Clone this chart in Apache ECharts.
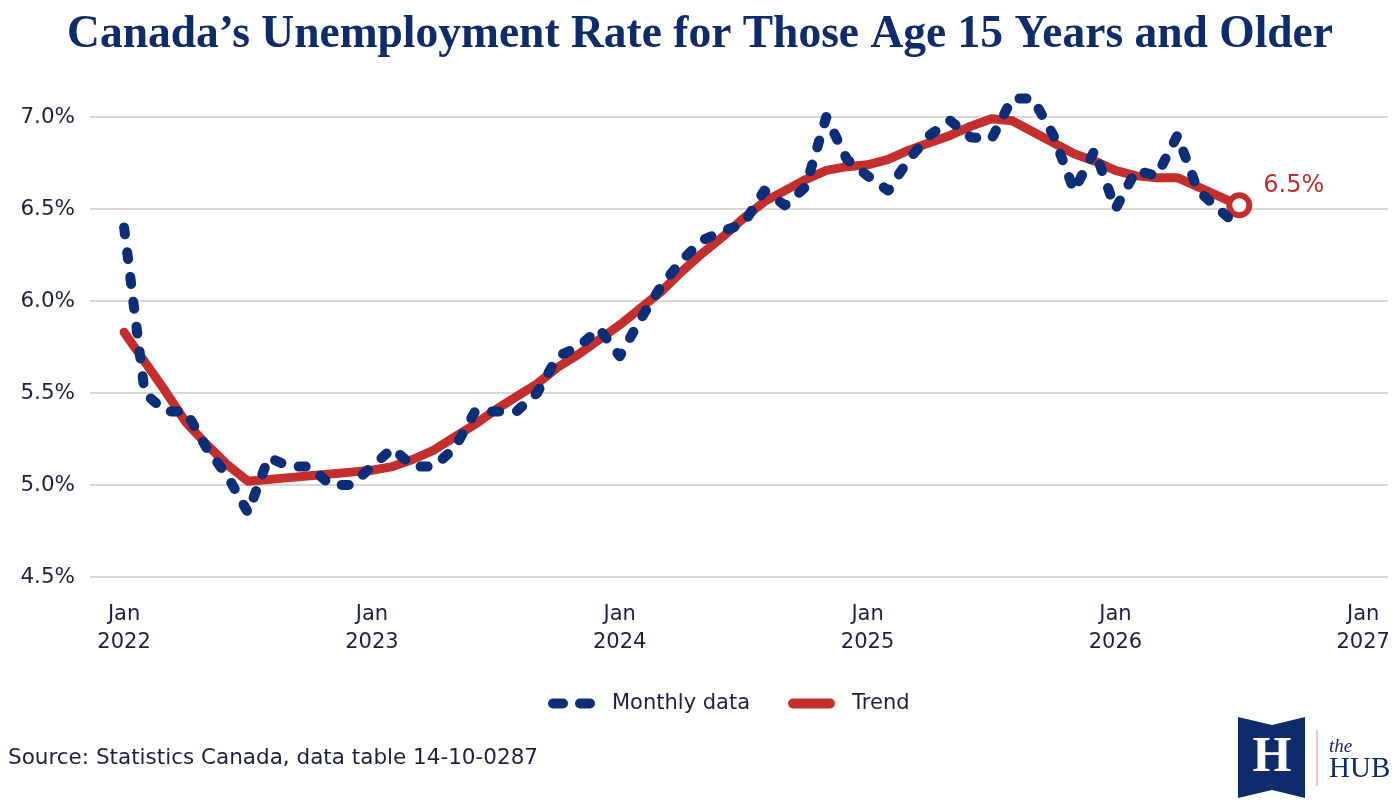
<!DOCTYPE html>
<html>
<head>
<meta charset="utf-8">
<title>Canada unemployment rate</title>
<script src="https://cdn.jsdelivr.net/npm/echarts@6/dist/echarts.min.js"></script>
<style>
  html, body { margin: 0; padding: 0; background: #fff; }
  #chart { width: 1400px; height: 807px; }
</style>
</head>
<body>
<div id="chart"></div>
<script>
// months since Jan 2022 (index 0 = Jan 2022, last = Jul 2026)
var monthly = [6.4, 5.5, 5.4, 5.4, 5.2, 5.05, 4.85, 5.15, 5.1, 5.1, 5.0, 5.0,
               5.1, 5.2, 5.1, 5.1, 5.2, 5.4, 5.4, 5.4, 5.5, 5.7, 5.75, 5.85,
               5.7, 5.9, 6.08, 6.22, 6.33, 6.38, 6.42, 6.6, 6.52, 6.62, 7.0, 6.77,
               6.68, 6.6, 6.77, 6.9, 6.98, 6.89, 6.88, 7.1, 7.1, 6.9, 6.6, 6.82,
               6.5, 6.71, 6.68, 6.9, 6.6, 6.5, 6.4];
var trend = [5.83, 5.67, 5.51, 5.34, 5.22, 5.11, 5.02, 5.03, 5.04, 5.05, 5.06, 5.07,
             5.08, 5.1, 5.14, 5.19, 5.26, 5.33, 5.41, 5.48, 5.55, 5.64, 5.71, 5.79,
             5.87, 5.96, 6.05, 6.16, 6.26, 6.35, 6.45, 6.54, 6.6, 6.66, 6.71, 6.73,
             6.74, 6.77, 6.82, 6.86, 6.9, 6.95, 6.99, 6.98, 6.92, 6.86, 6.8, 6.76,
             6.71, 6.68, 6.67, 6.67, 6.62, 6.57, 6.52];
var yearTicks = [0, 12, 24, 36, 48, 60];
var yearLabels = ['Jan\n2022', 'Jan\n2023', 'Jan\n2024', 'Jan\n2025', 'Jan\n2026', 'Jan\n2027'];

var BLUE = '#0c2d78';
var RED = '#c42e2c';
var INK = '#1b2240';
var NAVY = '#0e2b6b';

var chart = echarts.init(document.getElementById('chart'));

var monthlyData = monthly.map(function (v, i) { return [i, v]; });
var trendData = trend.map(function (v, i) { return [i, v]; });
var last = trendData.length - 1;
trendData[last] = {
	value: trendData[last],
	symbol: 'circle',
	symbolSize: 20,
	itemStyle: { color: '#fff', borderColor: RED, borderWidth: 6 },
	label: {
		show: true,
		position: 'right',
		distance: 11,
		offset: [0, -20],
		formatter: function (p) { return p.value[1].toFixed(1) + '%'; },
		color: RED,
		fontFamily: 'DejaVu Sans',
		fontSize: 24
	}
};

var option = {
	animation: false,
	title: {
		text: 'Canada\u2019s Unemployment Rate for Those Age 15 Years and Older',
		left: 'center',
		top: 7,
		textStyle: {
			fontFamily: 'Liberation Serif',
			fontWeight: 'bold',
			fontSize: 45.5,
			color: NAVY
		}
	},
	grid: { left: 90, right: 12, top: 80.2, bottom: 230 },
	xAxis: {
		type: 'value',
		min: -1.65,
		max: 61.2,
		axisLine: { show: false },
		axisTick: { show: false },
		splitLine: { show: false },
		axisLabel: {
			customValues: yearTicks,
			formatter: function (v) {
				var k = yearTicks.indexOf(Math.round(v));
				return k >= 0 ? yearLabels[k] : '';
			},
			margin: 24,
			lineHeight: 28,
			fontFamily: 'DejaVu Sans',
			fontSize: 21,
			color: INK
		}
	},
	yAxis: {
		type: 'value',
		min: 4.5,
		max: 7.2,
		interval: 0.5,
		axisLine: { show: false },
		axisTick: { show: false },
		splitLine: { show: true, showMaxLine: false, lineStyle: { color: '#d8d8d8', width: 2 } },
		axisLabel: {
			showMaxLabel: false,
			margin: 15,
			fontFamily: 'DejaVu Sans',
			fontSize: 21.5,
			color: INK,
			formatter: function (v) { return v > 7.05 ? '' : v.toFixed(1) + '%'; }
		}
	},
	legend: {
		left: 543,
		top: 688,
		itemWidth: 47,
		itemHeight: 10,
		itemGap: 38,
		textStyle: { fontFamily: 'DejaVu Sans', fontSize: 21, color: INK, padding: [0, 0, 0, 12] },
		data: [
			{ name: 'Monthly data', icon: 'path://M5,0 H15 A5,5 0 0 1 15,10 H5 A5,5 0 0 1 5,0 Z M32,0 H42 A5,5 0 0 1 42,10 H32 A5,5 0 0 1 32,0 Z' },
			{ name: 'Trend', icon: 'path://M5,0 H42 A5,5 0 0 1 42,10 H5 A5,5 0 0 1 5,0 Z' }
		]
	},
	series: [
		{
			name: 'Trend',
			type: 'line',
			data: trendData,
			symbol: 'none',
			z: 2,
			itemStyle: { color: RED },
			lineStyle: { color: RED, width: 9, cap: 'round', join: 'round' }
		},
		{
			name: 'Monthly data',
			type: 'line',
			data: monthlyData,
			symbol: 'none',
			z: 3,
			itemStyle: { color: BLUE },
			lineStyle: { color: BLUE, width: 10, type: [7, 18], cap: 'round', join: 'round' }
		}
	],
	graphic: [
		{
			type: 'text', left: 8, top: 747,
			style: { text: 'Source: Statistics Canada, data table 14-10-0287', fill: INK, fontFamily: 'DejaVu Sans', fontSize: 21.5 }
		},
		{
			type: 'polygon',
			shape: { points: [[1238, 717], [1272, 725], [1305, 717], [1305, 798], [1272, 790], [1238, 798]] },
			style: { fill: NAVY }
		},
		{
			type: 'text', x: 1272, y: 758,
			style: { text: 'H', fill: '#fff', fontFamily: 'Liberation Serif', fontWeight: 'bold', fontSize: 50, align: 'center', verticalAlign: 'middle' }
		},
		{
			type: 'line',
			shape: { x1: 1317, y1: 730, x2: 1317, y2: 786 },
			style: { stroke: '#f0b9b0', lineWidth: 1.5 }
		},
		{
			type: 'text', x: 1329, y: 747,
			style: { text: 'the', fill: NAVY, fontFamily: 'Liberation Serif', fontStyle: 'italic', fontSize: 19, verticalAlign: 'middle' }
		},
		{
			type: 'text', x: 1329, y: 769,
			style: { text: 'HUB', fill: NAVY, fontFamily: 'Liberation Serif', fontSize: 29, verticalAlign: 'middle' }
		}
	]
};

chart.setOption(option);
</script>
</body>
</html>
